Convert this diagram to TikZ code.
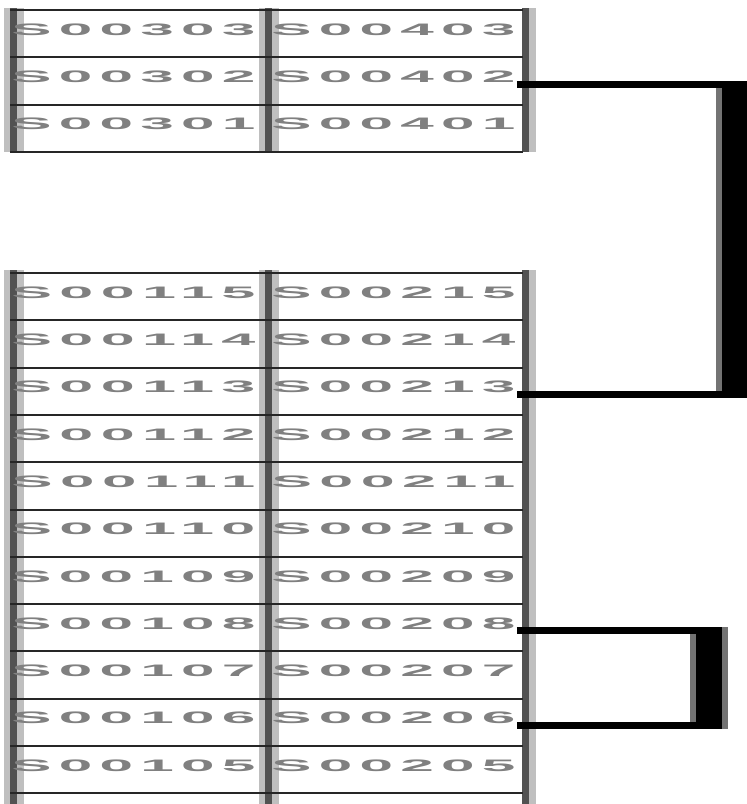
\documentclass[tikz,border=0pt]{standalone}
\usepackage{fontspec}
\setmainfont{Liberation Sans}
\newfontfamily\cellfont[LetterSpace=12]{Liberation Sans Bold}
\usetikzlibrary{positioning}
\newcommand{\celltext}[1]{\resizebox{122pt}{5.8pt}{\cellfont #1}}

\begin{document}
\begin{tikzpicture}[
  x=0.5pt, y=-0.5pt,
  line join=miter,
  code/.style={
    anchor=west,
    inner sep=0.5pt,
    text=black!50
  },
  rowline/.style={
    line width=1pt,
    draw=black!85
  },
  colline/.style={
    line width=3.5pt,
    draw=black!68,
    preaction={draw=black!25, line width=10pt}
  },
  rimline/.style={
    line width=3.5pt,
    draw=black!68,
    preaction={draw=black!25, line width=5.5pt, transform canvas={xshift=2.5pt}}
  },
  link/.style={
    line width=3.5pt,
    draw=black
  },
  bar/.style={
    line width=13pt,
    draw=black,
    shorten <=-1.75pt,
    shorten >=-1.75pt,
    preaction={draw=black!55, line width=19pt, shorten <=-1.75pt, shorten >=-1.75pt}
  }
]

\useasboundingbox (0,0) rectangle (747,804);

% =========================================================
% Upper table: S003xx / S004xx
% =========================================================

\draw[colline] (13.5,8) -- (13.5,152);
\draw[colline] (268.5,8) -- (268.5,152);
\draw[rimline] (525,8) -- (525,152);

\draw[rowline] (10,10) -- (523,10);
\draw[rowline] (10,57.3) -- (523,57.3);
\draw[rowline] (10,104.6) -- (523,104.6);
\draw[rowline] (10,151.9) -- (523,151.9);

\node[code] (s303) at (10,29.5) {\celltext{S00303}};
\node[code] (s403) at (270,29.5) {\celltext{S00403}};

\node[code] (s302) at (10,76.8) {\celltext{S00302}};
\node[code] (s402) at (270,76.8) {\celltext{S00402}};

\node[code] (s301) at (10,124.1) {\celltext{S00301}};
\node[code] (s401) at (270,124.1) {\celltext{S00401}};


% =========================================================
% Lower table: S001xx / S002xx
% =========================================================

\draw[colline] (13.5,270) -- (13.5,804);
\draw[colline] (268.5,270) -- (268.5,804);
\draw[rimline] (525,270) -- (525,804);

\draw[rowline] (10,273) -- (523,273);
\draw[rowline] (10,320.3) -- (523,320.3);
\draw[rowline] (10,367.6) -- (523,367.6);
\draw[rowline] (10,414.9) -- (523,414.9);
\draw[rowline] (10,462.2) -- (523,462.2);
\draw[rowline] (10,509.5) -- (523,509.5);
\draw[rowline] (10,556.8) -- (523,556.8);
\draw[rowline] (10,604.1) -- (523,604.1);
\draw[rowline] (10,651.4) -- (523,651.4);
\draw[rowline] (10,698.7) -- (523,698.7);
\draw[rowline] (10,746) -- (523,746);
\draw[rowline] (10,793.3) -- (523,793.3);

\node[code] (s115) at (10,292.5) {\celltext{S00115}};
\node[code] (s215) at (270,292.5) {\celltext{S00215}};

\node[code] (s114) at (10,339.8) {\celltext{S00114}};
\node[code] (s214) at (270,339.8) {\celltext{S00214}};

\node[code] (s113) at (10,387.1) {\celltext{S00113}};
\node[code] (s213) at (270,387.1) {\celltext{S00213}};

\node[code] (s112) at (10,434.4) {\celltext{S00112}};
\node[code] (s212) at (270,434.4) {\celltext{S00212}};

\node[code] (s111) at (10,481.7) {\celltext{S00111}};
\node[code] (s211) at (270,481.7) {\celltext{S00211}};

\node[code] (s110) at (10,529) {\celltext{S00110}};
\node[code] (s210) at (270,529) {\celltext{S00210}};

\node[code] (s109) at (10,576.3) {\celltext{S00109}};
\node[code] (s209) at (270,576.3) {\celltext{S00209}};

\node[code] (s108) at (10,623.6) {\celltext{S00108}};
\node[code] (s208) at (270,623.6) {\celltext{S00208}};

\node[code] (s107) at (10,670.9) {\celltext{S00107}};
\node[code] (s207) at (270,670.9) {\celltext{S00207}};

\node[code] (s106) at (10,718.2) {\celltext{S00106}};
\node[code] (s206) at (270,718.2) {\celltext{S00206}};

\node[code] (s105) at (10,765.5) {\celltext{S00105}};
\node[code] (s205) at (270,765.5) {\celltext{S00205}};


% =========================================================
% Brackets
% =========================================================

\coordinate (bar1) at (734.5,0);
\coordinate (bar2) at (708.5,0);

% S00402 to S00213
\draw[bar] (s402.south east -| bar1) -- (s213.south east -| bar1);
\draw[link] (s402.south east) -- (s402.south east -| bar1)
  -- (s213.south east -| bar1) -- (s213.south east);

% S00208 to S00206
\draw[bar] (s208.south east -| bar2) -- (s206.south east -| bar2);
\draw[link] (s208.south east) -- (s208.south east -| bar2)
  -- (s206.south east -| bar2) -- (s206.south east);

\end{tikzpicture}
\end{document}
